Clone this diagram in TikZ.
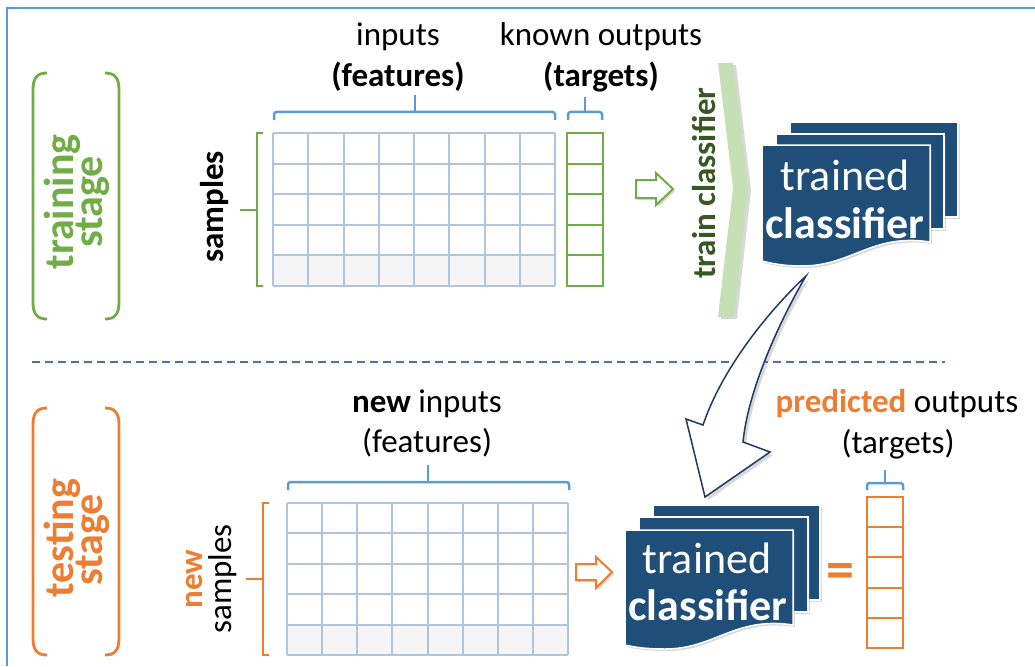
\documentclass[tikz,border=0pt]{standalone}
\usepackage{fontspec}
\setmainfont{Carlito}
\usetikzlibrary{shadows}
\definecolor{frameblue}{HTML}{5B9BD5}
\definecolor{gridblue}{HTML}{B0C4DE}
\definecolor{stagegreen}{HTML}{70AD47}
\definecolor{deepgreen}{HTML}{385723}
\definecolor{chevgreen}{HTML}{C5E0B4}
\definecolor{stageorange}{HTML}{ED7D31}
\definecolor{cardnavy}{HTML}{1F4E79}
\definecolor{arrownavy}{HTML}{203864}
\definecolor{dashblue}{HTML}{4A6FB5}
\begin{document}
\begin{tikzpicture}[x=1pt,y=-1pt,
  lbl/.style={font=\fontsize{33}{38}\selectfont, inner sep=0pt, anchor=base},
  stagelbl/.style={font=\fontsize{42}{42}\selectfont\bfseries, rotate=90, anchor=base, inner sep=0pt},
  cardtxt/.style={font=\fontsize{44}{44}\selectfont, text=white, anchor=base, inner sep=0pt},
  card/.style={fill=cardnavy, draw=white, line width=1.5pt,
    drop shadow={opacity=0.3, shadow xshift=2pt, shadow yshift=-2pt}},
  brace/.style={draw=frameblue, line width=2.5pt, rounded corners=2.5pt},
  gridln/.style={draw=gridblue, line width=2pt},
  paren/.style={line width=2.8pt},
  blockarrow/.style={line width=2pt, fill=white,
    drop shadow={opacity=0.3, shadow xshift=2pt, shadow yshift=-2pt}}]
\useasboundingbox (0,0) rectangle (1035,666);
\fill[white] (0,0) rectangle (1035,666);

% frame
\draw[frameblue, line width=2pt] (1035,8) -- (7,8) -- (7,666);

% ---------------- training stage ----------------
\draw[paren, stagegreen] (47,73) .. controls (37,73) and (33,78) .. (33,90) -- (33,302)
  .. controls (33,314) and (37,319) .. (47,319);
\draw[paren, stagegreen] (105,73) .. controls (115,73) and (119,78) .. (119,90) -- (119,302)
  .. controls (119,314) and (115,319) .. (105,319);
\node[stagelbl, text=stagegreen] (trainA) at (73,202) {training};
\node[stagelbl, text=stagegreen] (trainB) at (102,202) {stage};

\node[lbl] (inputs) at (398,46) {inputs};
\node[lbl] (features) at (398,87) {\textbf{(features)}};
\node[lbl] (known) at (601,46) {known outputs};
\node[lbl] (targets) at (601,87) {\textbf{(targets)}};

% braces above the training data
\draw[brace] (274,120) |- (415,112) -| (555,120);
\draw[brace] (415,112) -- (415,95);
\draw[brace] (568,120) |- (585,112) -| (602,120);
\draw[brace] (585,112) -- (585,97);

% samples bracket
\draw[stagegreen, line width=2.2pt] (263,133) -- (257,133) -- (257,286) -- (263,286);
\draw[stagegreen, line width=2.2pt] (257,210) -- (240,210);
\node[lbl, rotate=90, font=\fontsize{33}{38}\selectfont\bfseries] (samples) at (223,207) {samples};

% feature grid (training)
\fill[white] (273,133) rectangle (555,286);
\fill[black!4] (273,255.4) rectangle (555,286);
\foreach \i in {0,...,8} \draw[gridln] ({273+\i*35.25},133) -- ({273+\i*35.25},286);
\foreach \j in {0,...,5} \draw[gridln] (273,{133+\j*30.6}) -- (555,{133+\j*30.6});

% target column (training)
\fill[white] (567,133) rectangle (603,286);
\foreach \j in {0,...,5} \draw[stagegreen, line width=2pt] (567,{133+\j*30.6}) -- (603,{133+\j*30.6});
\draw[stagegreen, line width=2pt] (567,133) rectangle (603,286);

% hollow arrow into the training step
\path[blockarrow, draw=stagegreen] (636,180) -- (656,180) -- (656,173) -- (673,189)
  -- (656,205) -- (656,198) -- (636,198) -- cycle;

% chevron with label
\path[fill=chevgreen, drop shadow={opacity=0.3, shadow xshift=3pt, shadow yshift=-2pt}]
  (718,63) -- (733,63) -- (748,188) -- (734,317) -- (718,317) -- (733,188) -- cycle;
\node[rotate=90, anchor=base, inner sep=0pt, text=deepgreen,
  font=\fontsize{33}{38}\selectfont\bfseries] (trainclf) at (715,183) {train classifier};

% trained classifier stack (top)
\begin{scope}[shift={(762,145)}]
  \path[card] (28,-23) rectangle (196,72);
  \path[card] (14,-11) rectangle (182,84);
  \path[card] (0,0) -- (168,0) -- (168,97) .. controls (110,88) and (90,121) .. (40,121)
    .. controls (20,121) and (8,118) .. (0,116) -- cycle;
  \node[cardtxt] (trainedA) at (83,45) {trained};
  \node[cardtxt, font=\fontsize{44}{44}\selectfont\bfseries] (classA) at (83,93) {classifier};
\end{scope}

% separator
\draw[dashblue, line width=1.6pt, dash pattern=on 8pt off 5pt] (32,362) -- (945,362);

% curved hollow arrow from the trained classifier down to the testing stage
\path[draw=arrownavy, line width=1.5pt, fill=white,
  drop shadow={opacity=0.3, shadow xshift=3pt, shadow yshift=-3pt}]
  (806,276) .. controls (780,300) and (725,360) .. (703,425) -- (686,419) -- (705,497)
  -- (770,452) -- (743,442) .. controls (748,390) and (780,320) .. (806,276) -- cycle;

% ---------------- testing stage ----------------
\draw[paren, stageorange] (47,408) .. controls (37,408) and (33,413) .. (33,425) -- (33,638)
  .. controls (33,650) and (37,655) .. (47,655);
\draw[paren, stageorange] (105,408) .. controls (115,408) and (119,413) .. (119,425) -- (119,638)
  .. controls (119,650) and (115,655) .. (105,655);
\node[stagelbl, text=stageorange] (testA) at (73,538) {testing};
\node[stagelbl, text=stageorange] (testB) at (102,540) {stage};

\node[lbl] (newinputs) at (427,412) {\textbf{new} inputs};
\node[lbl] (features2) at (427,452) {(features)};
\node[lbl] (predicted) at (897,412) {\textcolor{stageorange}{\textbf{predicted}} outputs};
\node[lbl] (targets2) at (898,453) {(targets)};

% braces above the testing data
\draw[brace] (288,490) |- (428,482) -| (569,490);
\draw[brace] (428,482) -- (428,465);
\draw[brace] (867,490) |- (885,483) -| (903,490);
\draw[brace] (885,483) -- (885,470);

% new samples bracket
\draw[stageorange, line width=2.2pt] (269,503) -- (263,503) -- (263,655) -- (269,655);
\draw[stageorange, line width=2.2pt] (263,579) -- (246,579);
\node[lbl, rotate=90, text=stageorange, font=\fontsize{33}{38}\selectfont\bfseries] (newlbl) at (202,579) {new};
\node[lbl, rotate=90] (samples2) at (231,579) {samples};

% feature grid (testing)
\fill[white] (287,503) rectangle (568,655);
\fill[black!4] (287,624.6) rectangle (568,655);
\foreach \i in {0,...,8} \draw[gridln] ({287+\i*35.125},503) -- ({287+\i*35.125},655);
\foreach \j in {0,...,5} \draw[gridln] (287,{503+\j*30.4}) -- (568,{503+\j*30.4});

% hollow arrow into the classifier
\path[blockarrow, draw=stageorange] (576,564) -- (596,564) -- (596,557) -- (612,572)
  -- (596,588) -- (596,580) -- (576,580) -- cycle;

% trained classifier stack (bottom)
\begin{scope}[shift={(625,530)}]
  \path[card] (28,-25) rectangle (195,70);
  \path[card] (14,-13) rectangle (183,82);
  \path[card] (0,0) -- (168,0) -- (168,95) .. controls (110,86) and (90,119) .. (40,119)
    .. controls (20,119) and (8,117) .. (0,115) -- cycle;
  \node[cardtxt] (trainedB) at (82,43) {trained};
  \node[cardtxt, font=\fontsize{44}{44}\selectfont\bfseries] (classB) at (83,90) {classifier};
\end{scope}

\node[anchor=base, inner sep=0pt, text=stageorange, font=\fontsize{56}{56}\selectfont\bfseries]
  (equals) at (840,588) {=};

% predicted target column
\fill[white] (867,497) rectangle (903,648);
\foreach \j in {0,...,5} \draw[stageorange, line width=2pt] (867,{497+\j*30.2}) -- (903,{497+\j*30.2});
\draw[stageorange, line width=2pt] (867,497) rectangle (903,648);
\end{tikzpicture}
\end{document}
